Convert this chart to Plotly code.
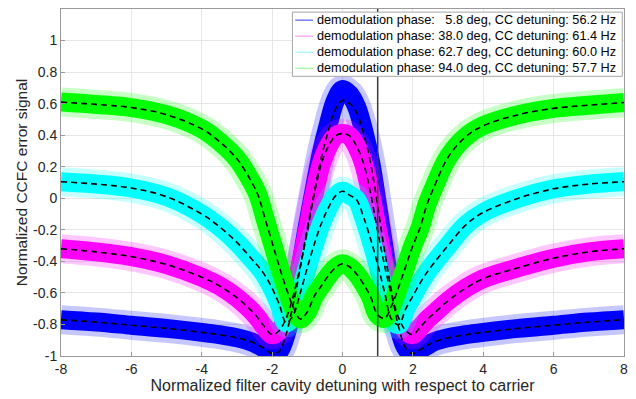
import plotly.graph_objects as go

# ---------------- data ----------------
X = [-8, -7, -6, -5, -4, -3.5, -3, -2.6, -2.4, -2.2, -2.0, -1.8, -1.6, -1.4, -1.2, -1.0,
     -0.8, -0.6, -0.4, -0.2, 0, 0.2, 0.4, 0.6, 0.8, 1.0, 1.2, 1.4, 1.6, 1.8, 2.0, 2.2,
     2.4, 2.6, 3, 3.5, 4, 5, 6, 7, 8]

# fitted model curves (dashed)
BLUE_FIT = [-0.77, -0.785, -0.805, -0.825, -0.85, -0.865, -0.885, -0.91, -0.93, -0.955,
            -0.985, -0.97, -0.86, -0.67, -0.44, -0.19, 0.04, 0.26, 0.43, 0.565, 0.62,
            0.60, 0.545, 0.41, 0.22, -0.05, -0.34, -0.60, -0.82, -0.95, -0.985, -0.96,
            -0.935, -0.91, -0.885, -0.865, -0.85, -0.825, -0.805, -0.785, -0.77]

MAGENTA_FIT = [-0.32, -0.34, -0.37, -0.42, -0.50, -0.555, -0.63, -0.71, -0.76, -0.82,
               -0.865, -0.84, -0.76, -0.62, -0.43, -0.21, 0.03, 0.22, 0.33, 0.395, 0.41,
               0.395, 0.33, 0.22, 0.03, -0.21, -0.43, -0.62, -0.76, -0.84, -0.865, -0.82,
               -0.77, -0.73, -0.65, -0.57, -0.51, -0.44, -0.38, -0.34, -0.32]

CYAN_FIT = [0.105, 0.09, 0.065, 0.01, -0.10, -0.18, -0.28, -0.38, -0.43, -0.49, -0.57,
            -0.67, -0.79, -0.74, -0.60, -0.44, -0.29, -0.16, -0.06, 0.015, 0.045, 0.02,
            -0.01, -0.12, -0.26, -0.42, -0.60, -0.77, -0.80, -0.70, -0.62, -0.54, -0.47,
            -0.41, -0.30, -0.17, -0.09, 0.0, 0.06, 0.09, 0.105]

GREEN_FIT = [0.61, 0.595, 0.575, 0.53, 0.44, 0.36, 0.25, 0.11, 0.02, -0.13, -0.28, -0.43,
             -0.57, -0.69, -0.765, -0.72, -0.62, -0.555, -0.49, -0.44, -0.415, -0.435,
             -0.48, -0.545, -0.625, -0.74, -0.76, -0.68, -0.56, -0.43, -0.30, -0.19,
             -0.04, 0.07, 0.26, 0.39, 0.46, 0.53, 0.57, 0.59, 0.607]

# centre of the measured (noisy) blue trace, which sits above its fit near the peak
BLUE_DATA = [-0.77, -0.785, -0.805, -0.825, -0.85, -0.865, -0.885, -0.91, -0.93, -0.955,
             -0.985, -0.97, -0.86, -0.67, -0.44, -0.18, 0.06, 0.29, 0.47, 0.62, 0.69,
             0.66, 0.58, 0.43, 0.23, -0.05, -0.34, -0.60, -0.82, -0.95, -0.985, -0.96,
             -0.935, -0.91, -0.885, -0.865, -0.85, -0.825, -0.805, -0.785, -0.77]

SERIES_NAMES = [
    "demodulation phase:\u00a0\u00a0\u00a05.8 deg, CC detuning: 56.2 Hz",
    "demodulation phase: 38.0 deg, CC detuning: 61.4 Hz",
    "demodulation phase: 62.7 deg, CC detuning: 60.0 Hz",
    "demodulation phase: 94.0 deg, CC detuning: 57.7 Hz",
]
SERIES_FITS = [BLUE_FIT, MAGENTA_FIT, CYAN_FIT, GREEN_FIT]
SERIES_DATA = [BLUE_DATA, MAGENTA_FIT, CYAN_FIT, GREEN_FIT]

X_TICKS = [-8, -6, -4, -2, 0, 2, 4, 6, 8]
X_TICK_LABELS = ["-8", "-6", "-4", "-2", "0", "2", "4", "6", "8"]
Y_TICKS = [-1, -0.8, -0.6, -0.4, -0.2, 0, 0.2, 0.4, 0.6, 0.8, 1]
Y_TICK_LABELS = ["-1", "-0.8", "-0.6", "-0.4", "-0.2", "0", "0.2", "0.4", "0.6", "0.8", "1"]
VLINE_X = 1

# ---------------- styles ----------------
RGB = [(0, 0, 255), (255, 0, 255), (0, 255, 255), (0, 255, 0)]
LEGEND_COLORS = ["#5c5cff", "#ff9cff", "#9cffff", "#9cff9c"]
FONT = "Liberation Sans, Arial, Helvetica, sans-serif"
TEXT = "#262626"

fig = go.Figure()

# noisy measurement bands (outer spikes + solid core)
for (r, g, b), y in zip(RGB, SERIES_DATA):
    fig.add_trace(go.Scatter(x=X, y=y, mode="lines", showlegend=False, hoverinfo="skip",
                             line=dict(color=f"rgba({r},{g},{b},0.22)", width=29,
                                       shape="spline", smoothing=1.0)))
    fig.add_trace(go.Scatter(x=X, y=y, mode="lines", showlegend=False, hoverinfo="skip",
                             line=dict(color=f"rgb({r},{g},{b})", width=19,
                                       shape="spline", smoothing=1.0)))

# dashed fit curves
for y in SERIES_FITS:
    fig.add_trace(go.Scatter(x=X, y=y, mode="lines", showlegend=False, hoverinfo="skip",
                             line=dict(color="black", width=1.6, dash="6px,4px",
                                       shape="spline", smoothing=1.0)))

fig.add_shape(type="line", xref="x", yref="paper", x0=VLINE_X, x1=VLINE_X, y0=0, y1=1,
              line=dict(color="#3a3a3a", width=1.5), layer="above")

# ---- compact MATLAB-style legend box (paper coordinates of the plot area) ----
LEG_X0, LEG_X1, LEG_Y1, LEG_Y0 = 0.411, 0.997, 0.991, 0.806
ROW_H = (LEG_Y1 - LEG_Y0) / 4
fig.add_shape(type="rect", xref="paper", yref="paper", x0=LEG_X0, x1=LEG_X1,
              y0=LEG_Y0, y1=LEG_Y1, line=dict(color="#a6a6a6", width=1),
              fillcolor="white", layer="above")
for i, (name, col) in enumerate(zip(SERIES_NAMES, LEGEND_COLORS)):
    yc = LEG_Y1 - ROW_H * (i + 0.5)
    fig.add_shape(type="line", xref="paper", yref="paper", x0=LEG_X0 + 0.005,
                  x1=LEG_X0 + 0.037, y0=yc, y1=yc, line=dict(color=col, width=1.2),
                  layer="above")
    fig.add_annotation(xref="paper", yref="paper", x=LEG_X0 + 0.040, y=yc, text=name,
                       showarrow=False, xanchor="left", yanchor="middle",
                       font=dict(family=FONT, size=12.7, color="black"))

axis_common = dict(
    showgrid=True, gridcolor="#e6e6e6", gridwidth=1,
    showline=True, linecolor="#9a9a9a", linewidth=1, mirror=True,
    ticks="inside", ticklen=4, tickcolor="#9a9a9a",
    tickfont=dict(family=FONT, size=14, color=TEXT),
    zeroline=False,
)

fig.update_layout(
    width=636, height=399,
    margin=dict(l=61, r=11, t=8, b=41),
    paper_bgcolor="white", plot_bgcolor="white",
    font=dict(family=FONT, color=TEXT),
    showlegend=False,
    xaxis=dict(range=[-8, 8], tickmode="array", tickvals=X_TICKS, ticktext=X_TICK_LABELS,
               title=dict(text="Normalized filter cavity detuning with respect to carrier",
                          font=dict(family=FONT, size=16, color=TEXT), standoff=3),
               **axis_common),
    yaxis=dict(range=[-1, 1.2], tickmode="array", tickvals=Y_TICKS, ticktext=Y_TICK_LABELS,
               title=dict(text="Normalized CCFC error signal",
                          font=dict(family=FONT, size=15.5, color=TEXT), standoff=1),
               **axis_common),
)

fig.write_html("out.html", config={"displayModeBar": False},
               post_script="document.body.style.margin='0px';document.body.style.overflow='hidden';")
